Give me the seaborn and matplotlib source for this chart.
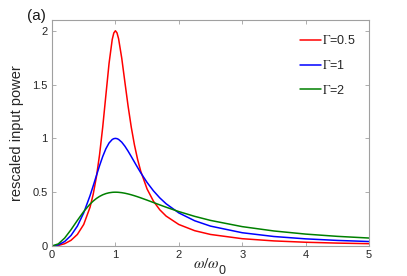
import numpy as np
import pandas as pd
import matplotlib
matplotlib.use("Agg")
import matplotlib.pyplot as plt
import seaborn as sns

# omega / omega_0 sample positions
omega = [0, 0.1, 0.2, 0.3, 0.4, 0.5, 0.6, 0.65, 0.7, 0.75, 0.8, 0.85, 0.9, 0.95, 0.975,
         1.0, 1.025, 1.05, 1.1, 1.15, 1.2, 1.25, 1.3, 1.35, 1.4, 1.5, 1.6, 1.7, 1.8,
         2.0, 2.25, 2.5, 3.0, 3.5, 4.0, 4.5, 5.0]

# rescaled input power
power_g05 = [0, 0.0051, 0.0215, 0.0529, 0.1073, 0.2, 0.3603, 0.4811, 0.6404, 0.8471, 1.105,
             1.4022, 1.6974, 1.9191, 1.9797, 2.0, 1.9807, 1.9266, 1.7455, 1.5214, 1.3006,
             1.105, 0.9403, 0.8049, 0.6942, 0.5294, 0.4165, 0.3365, 0.278, 0.2, 0.1424,
             0.1073, 0.0679, 0.0473, 0.0349, 0.027, 0.0215]
power_g1 = [0, 0.0101, 0.0416, 0.098, 0.1848, 0.3077, 0.4678, 0.5589, 0.6532, 0.7461, 0.8316,
            0.9037, 0.9573, 0.9896, 0.9974, 1.0, 0.9976, 0.9906, 0.9648, 0.9271, 0.8815,
            0.8316, 0.7802, 0.7293, 0.6802, 0.5902, 0.5127, 0.4472, 0.3924, 0.3077, 0.2347,
            0.1848, 0.1233, 0.0882, 0.0664, 0.0518, 0.0416]
power_g2 = [0, 0.0196, 0.074, 0.1515, 0.2378, 0.32, 0.3893, 0.4176, 0.4414, 0.4608, 0.4759,
            0.487, 0.4945, 0.4987, 0.4997, 0.5, 0.4997, 0.4988, 0.4955, 0.4904, 0.4837,
            0.4759, 0.4671, 0.4575, 0.4474, 0.426, 0.404, 0.382, 0.3604, 0.32, 0.2755,
            0.2378, 0.18, 0.1396, 0.1107, 0.0897, 0.074]

series_labels = [r"$\Gamma$=0.5", r"$\Gamma$=1", r"$\Gamma$=2"]
colors = ["#ff0000", "#0000ff", "#008000"]

x_ticks = [0, 1, 2, 3, 4, 5]
y_ticks = [0, 0.5, 1, 1.5, 2]
y_tick_labels = ["0", "0.5", "1", "1.5", "2"]

df = pd.concat([
    pd.DataFrame({"omega": omega, "power": vals, "label": lab})
    for vals, lab in zip([power_g05, power_g1, power_g2], series_labels)
], ignore_index=True)

sns.set_theme(style="white")
plt.rcParams["font.family"] = ["Liberation Sans", "DejaVu Sans"]
plt.rcParams["mathtext.fontset"] = "stix"

W, H = 407, 276
fig = plt.figure(figsize=(W / 100, H / 100), dpi=100)
ax = fig.add_axes([52 / W, 1 - 246 / H, (369 - 52) / W, (246 - 20) / H])

sns.lineplot(data=df, x="omega", y="power", hue="label", hue_order=series_labels,
             palette=colors, linewidth=1.1, ax=ax, sort=False, estimator=None)

ax.set_xlim(0, 5)
ax.set_ylim(0, 2.1)
ax.set_xticks(x_ticks)
ax.set_xticklabels([str(t) for t in x_ticks])
ax.set_yticks(y_ticks)
ax.set_yticklabels(y_tick_labels)

spine_col = "#a0a0a0"
for s in ax.spines.values():
    s.set_visible(True)
    s.set_color(spine_col)
    s.set_linewidth(0.8)
ax.tick_params(direction="in", length=3, width=0.6, color=spine_col,
               labelsize=8, labelcolor="#262626", top=True, right=True,
               bottom=True, left=True, pad=3)

ax.set_xlabel("")
ax.set_ylabel("rescaled input power", fontsize=10.5, color="#262626", labelpad=6)

# x label drawn as omega/omega with a full-size subscript 0 (MATLAB style)
fig.text(206 / W, 1 - 264 / H, r"$\omega/\omega$", fontsize=11, color="#262626",
         ha="center", va="center")
fig.text(222 / W, 1 - 271 / H, "0", fontsize=9, color="#262626",
         ha="center", va="center")

leg = ax.legend(loc="upper left", bbox_to_anchor=(300 / W, 1 - 34 / H),
                bbox_transform=fig.transFigure, frameon=False, fontsize=9,
                handlelength=1.7, handletextpad=0.1, labelspacing=0.95,
                borderaxespad=0, borderpad=0)
for t in leg.get_texts():
    t.set_color("#262626")

fig.text(27 / W, 1 - 16 / H, "(a)", fontsize=11, color="#1a1a1a", ha="left", va="center")

fig.savefig("out.png", dpi=100)
